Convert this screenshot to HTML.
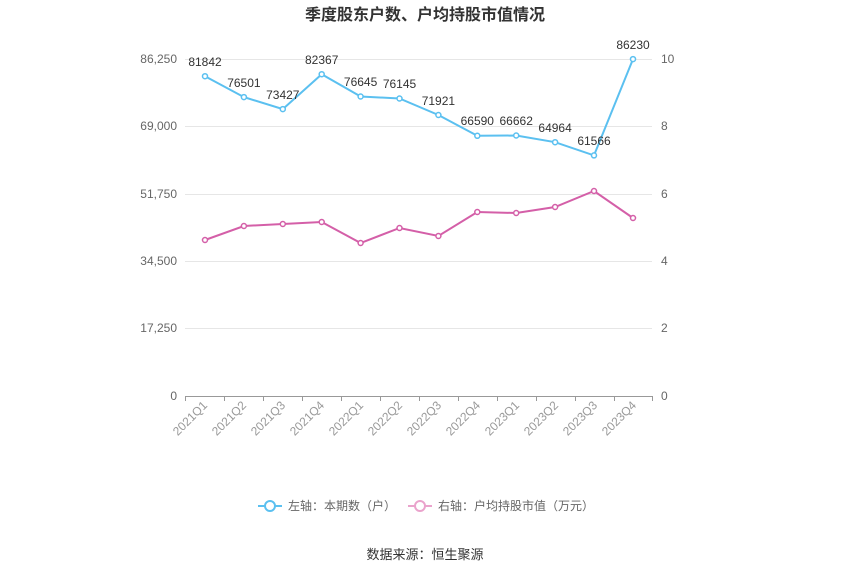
<!DOCTYPE html>
<html><head><meta charset="utf-8"><style>
body{margin:0;background:#fff;}
svg{display:block;font-family:"Liberation Sans","Noto Sans CJK SC",sans-serif;}
</style></head><body>
<svg width="850" height="575" viewBox="0 0 850 575">
<text x="425" y="20" text-anchor="middle" font-size="16" font-weight="bold" fill="#333">季度股东户数、户均持股市值情况</text>
<g stroke="#e6e6e6" stroke-width="1">
<line x1="185" y1="59.5" x2="652" y2="59.5"/>
<line x1="185" y1="126.5" x2="652" y2="126.5"/>
<line x1="185" y1="194.5" x2="652" y2="194.5"/>
<line x1="185" y1="261.5" x2="652" y2="261.5"/>
<line x1="185" y1="328.5" x2="652" y2="328.5"/>
</g>
<line x1="185" y1="396.5" x2="652" y2="396.5" stroke="#999"/>
<g stroke="#999">
<line x1="185.5" y1="396" x2="185.5" y2="401"/><line x1="224.5" y1="396" x2="224.5" y2="401"/><line x1="263.5" y1="396" x2="263.5" y2="401"/><line x1="302.5" y1="396" x2="302.5" y2="401"/><line x1="341.5" y1="396" x2="341.5" y2="401"/><line x1="380.5" y1="396" x2="380.5" y2="401"/><line x1="419.5" y1="396" x2="419.5" y2="401"/><line x1="458.5" y1="396" x2="458.5" y2="401"/><line x1="497.5" y1="396" x2="497.5" y2="401"/><line x1="536.5" y1="396" x2="536.5" y2="401"/><line x1="575.5" y1="396" x2="575.5" y2="401"/><line x1="614.5" y1="396" x2="614.5" y2="401"/><line x1="652.5" y1="396" x2="652.5" y2="401"/>
</g>
<g font-size="12" fill="#666" text-anchor="end">
<text x="177" y="63">86,250</text><text x="177" y="130">69,000</text><text x="177" y="198">51,750</text><text x="177" y="265">34,500</text><text x="177" y="332">17,250</text><text x="177" y="400">0</text>
</g>
<g font-size="12" fill="#666">
<text x="661" y="63">10</text><text x="661" y="130">8</text><text x="661" y="198">6</text><text x="661" y="265">4</text><text x="661" y="332">2</text><text x="661" y="400">0</text>
</g>
<g font-size="12" fill="#999" text-anchor="end">
<text transform="translate(208,406) rotate(-45)">2021Q1</text>
<text transform="translate(247,406) rotate(-45)">2021Q2</text>
<text transform="translate(286,406) rotate(-45)">2021Q3</text>
<text transform="translate(325,406) rotate(-45)">2021Q4</text>
<text transform="translate(364,406) rotate(-45)">2022Q1</text>
<text transform="translate(403,406) rotate(-45)">2022Q2</text>
<text transform="translate(442,406) rotate(-45)">2022Q3</text>
<text transform="translate(481,406) rotate(-45)">2022Q4</text>
<text transform="translate(520,406) rotate(-45)">2023Q1</text>
<text transform="translate(559,406) rotate(-45)">2023Q2</text>
<text transform="translate(598,406) rotate(-45)">2023Q3</text>
<text transform="translate(637,406) rotate(-45)">2023Q4</text>
</g>
<polyline fill="none" stroke="#5bc0f0" stroke-width="2" points="205,76.2 243.9,97.1 282.8,109.1 321.7,74.2 360.6,96.5 399.5,98.5 438.4,115 477.3,135.8 516.2,135.5 555.1,142.2 594,155.4 633,59.1"/>
<g fill="#fff" stroke="#5bc0f0" stroke-width="1.5">
<circle cx="205" cy="76.2" r="2.5"/><circle cx="243.9" cy="97.1" r="2.5"/><circle cx="282.8" cy="109.1" r="2.5"/><circle cx="321.7" cy="74.2" r="2.5"/><circle cx="360.6" cy="96.5" r="2.5"/><circle cx="399.5" cy="98.5" r="2.5"/><circle cx="438.4" cy="115" r="2.5"/><circle cx="477.3" cy="135.8" r="2.5"/><circle cx="516.2" cy="135.5" r="2.5"/><circle cx="555.1" cy="142.2" r="2.5"/><circle cx="594" cy="155.4" r="2.5"/><circle cx="633" cy="59.1" r="2.5"/>
</g>
<polyline fill="none" stroke="#d45fa8" stroke-width="2" points="205,240 243.9,226 282.8,224 321.7,222 360.6,243 399.5,228 438.4,236 477.3,212 516.2,213 555.1,207 594,191 633,218"/>
<g fill="#fff" stroke="#d45fa8" stroke-width="1.5">
<circle cx="205" cy="240" r="2.5"/><circle cx="243.9" cy="226" r="2.5"/><circle cx="282.8" cy="224" r="2.5"/><circle cx="321.7" cy="222" r="2.5"/><circle cx="360.6" cy="243" r="2.5"/><circle cx="399.5" cy="228" r="2.5"/><circle cx="438.4" cy="236" r="2.5"/><circle cx="477.3" cy="212" r="2.5"/><circle cx="516.2" cy="213" r="2.5"/><circle cx="555.1" cy="207" r="2.5"/><circle cx="594" cy="191" r="2.5"/><circle cx="633" cy="218" r="2.5"/>
</g>
<g font-size="12" fill="#333" text-anchor="middle">
<text x="205" y="66">81842</text><text x="243.9" y="87">76501</text><text x="282.8" y="99">73427</text><text x="321.7" y="64">82367</text><text x="360.6" y="86">76645</text><text x="399.5" y="88">76145</text><text x="438.4" y="105">71921</text><text x="477.3" y="125">66590</text><text x="516.2" y="125">66662</text><text x="555.1" y="132">64964</text><text x="594" y="145">61566</text><text x="633" y="49">86230</text>
</g>
<g font-size="12" fill="#666">
<line x1="258" y1="506" x2="282" y2="506" stroke="#5bc0f0" stroke-width="2"/>
<circle cx="270" cy="506" r="5" fill="#fff" stroke="#5bc0f0" stroke-width="2"/>
<text x="288" y="510">左轴：本期数（户）</text>
<line x1="408" y1="506" x2="432" y2="506" stroke="#eaa3cc" stroke-width="2"/>
<circle cx="420" cy="506" r="5" fill="#fff" stroke="#eaa3cc" stroke-width="2"/>
<text x="438" y="510">右轴：户均持股市值（万元）</text>
</g>
<text x="425" y="559" text-anchor="middle" font-size="13" fill="#333">数据来源：恒生聚源</text>
</svg>
</body></html>
